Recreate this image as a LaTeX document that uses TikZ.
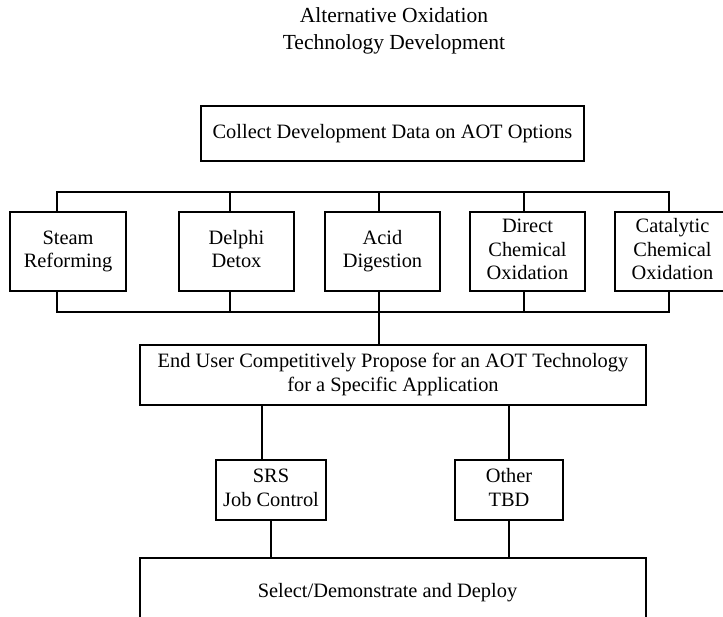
\documentclass[tikz,border=0pt]{standalone}
\usepackage{fontspec}
\setmainfont{Liberation Serif}
\begin{document}
\begin{tikzpicture}[x=1pt,y=-1pt,
  line width=1.5pt, line cap=rect,
  txt/.style={font=\fontsize{20.4}{23.5}\selectfont, align=center, inner sep=0pt},
  box/.style={txt, draw, rectangle, minimum width=#1},
  ttl/.style={font=\fontsize{21.5}{27}\selectfont, align=center, inner sep=0pt}]
\useasboundingbox (0,0) rectangle (723,617);
% title
\node[ttl] (title) at (394,31) {Alternative Oxidation\\Technology Development};
% collect box
\node[box=383pt, minimum height=55pt] (collect) at (392.5,133.5) {\strut Collect Development Data on AOT Options};
% option boxes
\node[box=116pt, minimum height=79pt] (steam) at (68,251.5) {\strut Steam\\\strut Reforming};
\node[box=115pt, minimum height=79pt] (delphi) at (236.5,251.5) {\strut Delphi\\\strut Detox};
\node[box=115pt, minimum height=79pt] (acid) at (382.5,251.5) {\strut Acid\\\strut Digestion};
\node[box=115pt, minimum height=79pt] (direct) at (527.5,251.5) {\strut Direct\\\strut Chemical\\\strut Oxidation};
\node[box=115pt, minimum height=79pt] (catal) at (672.5,251.5) {\strut Catalytic\\\strut Chemical\\\strut Oxidation};
% buses
\coordinate (tb1) at (57,192);
\coordinate (tb2) at (230,192);
\coordinate (tb3) at (379,192);
\coordinate (tb4) at (524,192);
\coordinate (tb5) at (669,192);
\coordinate (bb1) at (57,312);
\coordinate (bb2) at (230,312);
\coordinate (bb3) at (379,312);
\coordinate (bb4) at (524,312);
\coordinate (bb5) at (669,312);
\draw (tb1) -- (tb5);
\draw (bb1) -- (bb5);
\draw (tb1) -- (tb1 |- steam.north);
\draw (tb2) -- (tb2 |- delphi.north);
\draw (tb3) -- (tb3 |- acid.north);
\draw (tb4) -- (tb4 |- direct.north);
\draw (tb5) -- (tb5 |- catal.north);
\draw (bb1) -- (bb1 |- steam.south);
\draw (bb2) -- (bb2 |- delphi.south);
\draw (bb3) -- (bb3 |- acid.south);
\draw (bb4) -- (bb4 |- direct.south);
\draw (bb5) -- (bb5 |- catal.south);
% end user box
\node[box=506pt, minimum height=60pt] (enduser) at (393,375) {\strut End User Competitively Propose for an AOT Technology\\\strut for a Specific Application};
\draw (bb3) -- (bb3 |- enduser.north);
% SRS and Other
\node[box=110pt, minimum height=60pt] (srs) at (271,490) {\strut SRS\\\strut Job Control};
\node[box=108pt, minimum height=60pt] (other) at (509,490) {\strut Other\\\strut TBD};
\coordinate (s1) at (262,405);
\coordinate (s2) at (271,558);
\coordinate (o2) at (509,558);
\draw (s1) -- (s1 |- srs.north);
\draw (enduser.south -| other.north) -- (other.north);
\draw (srs.south -| s2) -- (s2);
\draw (other.south) -- (o2);
% deploy open box
\coordinate (dl) at (140,558);
\coordinate (dr) at (646,558);
\draw (dl |- 0,640) -- (dl) -- (dr) -- (dr |- 0,640);
\node[txt] (deploy) at (387.5,593) {Select/Demonstrate and Deploy};
\end{tikzpicture}
\end{document}
